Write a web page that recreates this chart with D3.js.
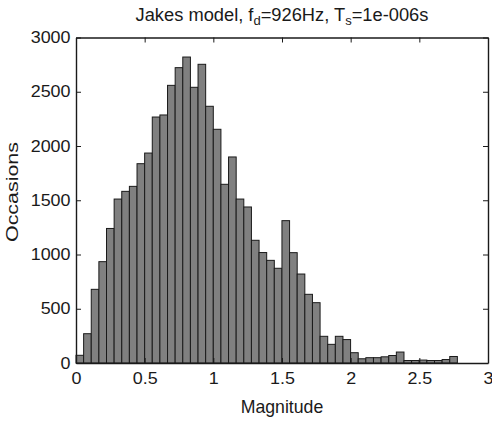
<!DOCTYPE html>
<html>
<head>
<meta charset="utf-8">
<script src="https://cdn.jsdelivr.net/npm/d3@7/dist/d3.min.js"></script>
<style>
  html, body { margin: 0; padding: 0; background: #fff; }
  svg text { font-family: "Liberation Sans", Arial, Helvetica, sans-serif; fill: #1a1a1a; }
</style>
</head>
<body>
<svg id="chart" width="492" height="421"></svg>
<script>
// ---- data ----
const binLow = 0.0;
const binHigh = 2.777;
const counts = [71, 270, 679, 934, 1240, 1511, 1582, 1628, 1837, 1935,
                2267, 2286, 2559, 2722, 2820, 2541, 2753, 2366, 2154, 1647,
                1899, 1511, 1438, 1131, 1018, 946, 873, 1312, 1017, 820,
                633, 556, 246, 172, 246, 216, 95, 39, 49, 49,
                57, 69, 101, 23, 23, 27, 23, 23, 32, 60];
const xTicks = [0, 0.5, 1, 1.5, 2, 2.5, 3];
const yTicks = [0, 500, 1000, 1500, 2000, 2500, 3000];
const xDomain = [0, 3];
const yDomain = [0, 3000];

// ---- layout ----
const svg = d3.select("#chart");
const L = 76, R = 488, T = 37.5, B = 363;
const x = d3.scaleLinear().domain(xDomain).range([L, R]);
const y = d3.scaleLinear().domain(yDomain).range([B, T]);
const bw = (binHigh - binLow) / counts.length;
const bins = counts.map((c, i) => ({ x0: binLow + i * bw, x1: binLow + (i + 1) * bw, c }));

// bars
svg.append("g").selectAll("rect").data(bins).join("rect")
  .attr("x", d => x(d.x0))
  .attr("y", d => y(d.c))
  .attr("width", d => x(d.x1) - x(d.x0))
  .attr("height", d => y(0) - y(d.c))
  .attr("fill", "#808080")
  .attr("stroke", "#1a1a1a")
  .attr("stroke-width", 1);

const tk = 5;
const fs = 16;
const sx = 1.12; // horizontal stretch of tick labels
// axes (inward ticks)
const gB = svg.append("g").attr("transform", `translate(0,${B})`)
  .call(d3.axisBottom(x).tickValues(xTicks).tickSizeInner(-tk).tickSizeOuter(0).tickPadding(10).tickFormat(d3.format("~g")));
const gT = svg.append("g").attr("transform", `translate(0,${T})`)
  .call(d3.axisTop(x).tickValues(xTicks).tickSizeInner(-tk).tickSizeOuter(0).tickFormat(""));
const gL = svg.append("g").attr("transform", `translate(${L},0)`)
  .call(d3.axisLeft(y).tickValues(yTicks).tickSizeInner(-tk).tickSizeOuter(0).tickFormat(d3.format("d")));
const gR = svg.append("g").attr("transform", `translate(${R},0)`)
  .call(d3.axisRight(y).tickValues(yTicks).tickSizeInner(-tk).tickSizeOuter(0).tickFormat(""));
[gB, gT, gL, gR].forEach(g => {
  g.select(".domain").attr("stroke", "#1a1a1a").attr("stroke-width", 1.4);
  g.selectAll(".tick line").attr("stroke", "#1a1a1a");
  g.selectAll(".tick text").attr("font-size", fs).attr("font-family", "Liberation Sans, Arial, sans-serif")
    .attr("fill", "#1a1a1a").attr("transform", `scale(${sx},1)`);
});
gL.selectAll(".tick text").attr("x", -5.5 / sx);

// title
const title = svg.append("text")
  .attr("x", (L + R) / 2).attr("y", 20.5)
  .attr("text-anchor", "middle").attr("font-size", 18.3);
title.append("tspan").text("Jakes model, f");
title.append("tspan").attr("font-size", 13).attr("dy", 4.3).text("d");
title.append("tspan").attr("dy", -4.3).text("=926Hz, T");
title.append("tspan").attr("font-size", 13).attr("dy", 4.3).text("s");
title.append("tspan").attr("dy", -4.3).text("=1e-006s");

// axis labels
svg.append("text").attr("x", (L + R) / 2).attr("y", 412.7)
  .attr("text-anchor", "middle").attr("font-size", 17.7).text("Magnitude");
svg.append("text").attr("transform", `translate(17.5,192) rotate(-90)`)
  .attr("text-anchor", "middle").attr("font-size", 17.2)
  .attr("textLength", 100).attr("lengthAdjust", "spacingAndGlyphs").text("Occasions");
</script>
</body>
</html>
